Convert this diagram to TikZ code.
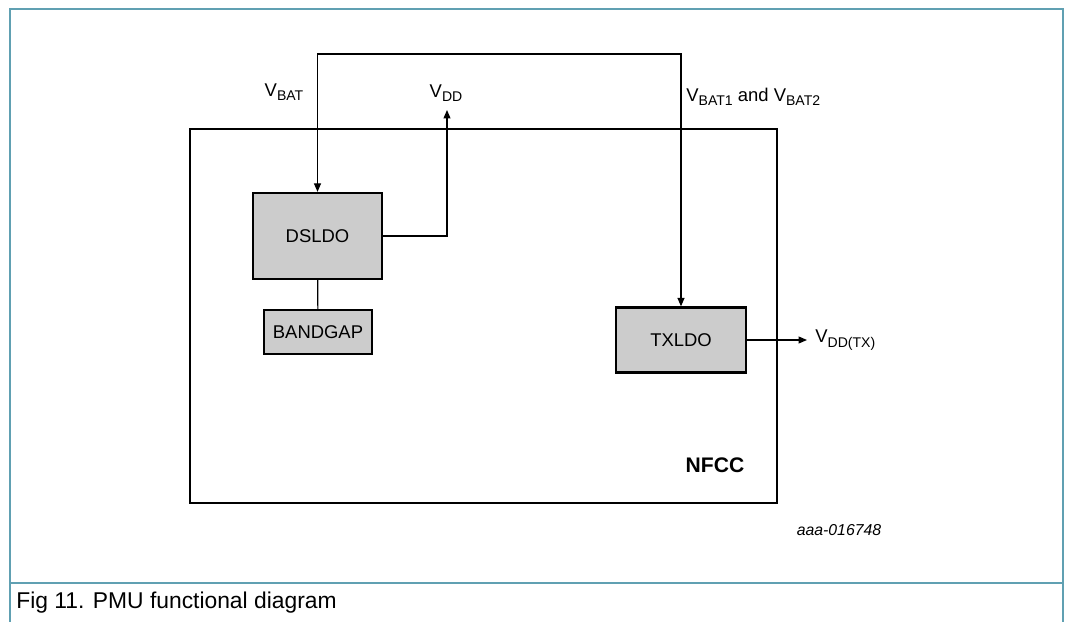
\documentclass[tikz,border=0pt]{standalone}
\usepackage{fontspec}
\setmainfont{Liberation Sans}
\usetikzlibrary{arrows.meta}

\definecolor{framecol}{RGB}{96,160,178}
\definecolor{boxgray}{RGB}{204,204,204}
\newcommand{\lowtxt}[1]{\raisebox{-0.45ex}{\fontsize{8}{8}\selectfont #1}}

\begin{document}
\begin{tikzpicture}
    [x=0.02cm,y=-0.02cm,>={Triangle[length=1.7mm,width=1.4mm]},
     every node/.style={font=\fontsize{10.5}{12}\selectfont,inner sep=0pt},
     blk/.style={draw,line width=1.3pt,fill=boxgray},
     wire/.style={line width=0.7pt},
     frame/.style={draw=framecol,line width=0.8pt}]
    \useasboundingbox (0,0) rectangle (1066,622);

    % page frame and caption
    \draw[frame] (10,622) -- (10,9) -- (1063,9) -- (1063,622);
    \draw[frame] (10,583) -- (1063,583);
    \node[anchor=west,font=\fontsize{13}{15}\selectfont] (ncap) at (16,603) {Fig 11. PMU functional diagram};

    \node[draw,line width=1.6pt,minimum width=11.74cm,minimum height=7.48cm] (nnf) at (483.5,316) {};
    \node[font=\fontsize{12}{14}\selectfont\bfseries] (nnl) at (715,465) {NFCC};
    \node[font=\fontsize{9}{11}\selectfont\itshape] (nid) at (839,530) {aaa-016748};

    \node[blk,minimum width=2.58cm,minimum height=1.72cm] (nds) at (317.5,236) {DSLDO};
    \node[blk,minimum width=2.16cm,minimum height=0.88cm] (nbg) at (318,332) {BANDGAP};
    \node[blk,minimum width=2.6cm,minimum height=1.3cm] (ntx) at (681,340) {TXLDO};

    \coordinate (vb) at (317.5,54);
    \coordinate (vdd) at (447,110);
    \coordinate (vtx) at (807,340);

    \node (nvb) at (284,92) {V\lowtxt{BAT}};
    \node (nvd) at (446,93) {V\lowtxt{DD}};
    \node[anchor=west] (nv12) at (686,97) {V\lowtxt{BAT1} and V\lowtxt{BAT2}};
    \node[anchor=west] (nvt) at (815,340) {V\lowtxt{DD(TX)}};

    \draw[wire,<->] (nds.north) -- (vb) -| (ntx.north);
    \draw[wire,->] (nds.east) -| (vdd);
    \draw[wire] (nds) -- (nbg);
    \draw[wire,->] (ntx.east) -- (vtx);

  \end{tikzpicture}
\end{document}
